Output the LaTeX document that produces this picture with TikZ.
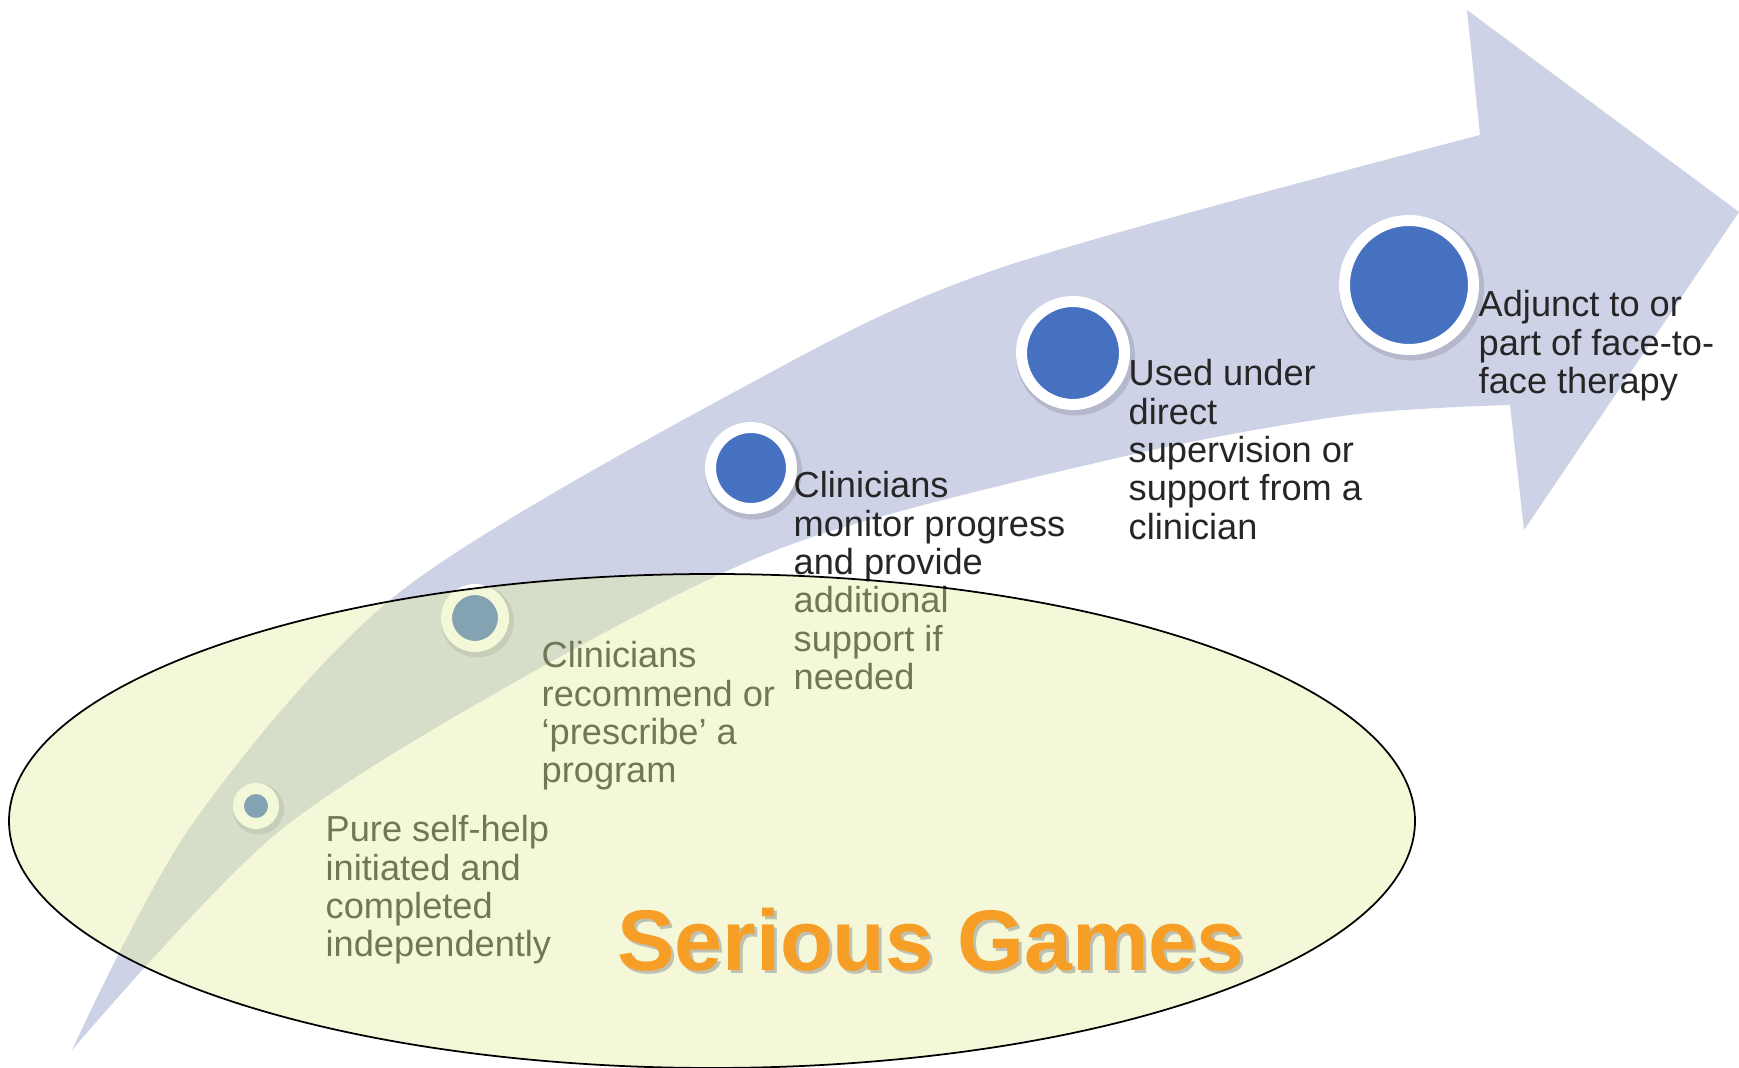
\documentclass[tikz,border=0pt]{standalone}
\usepackage{fontspec}
\setmainfont{Liberation Sans}
\usetikzlibrary{shapes.geometric}
\definecolor{arrowlav}{RGB}{206,210,231}
\definecolor{dotblue}{RGB}{70,113,192}
\definecolor{gamefill}{RGB}{227,238,158}
\definecolor{gameorange}{RGB}{246,158,38}

\begin{document}
\begin{tikzpicture}[x=0.1mm, y=-0.1mm,
	stage/.style={circle, fill=dotblue, draw=white, line width=1.1mm, inner sep=0pt,
		preaction={fill=none, draw=black, draw opacity=0.12, line width=1.6mm,
			transform canvas={xshift=0.25mm, yshift=-0.3mm}}},
	caption/.style={anchor=north west, inner sep=0pt, align=left, text=black!85,
		font=\fontsize{10.3}{10.9}\selectfont},
	gametitle/.style={anchor=base, inner sep=0pt, font=\fontsize{24.5}{28}\selectfont\bfseries}]
	\useasboundingbox (0,0) rectangle (1739,1068);
	\fill[arrowlav] plot[smooth] coordinates {(72,1050) (193,823) (400,592) (751,383) (1000,268) (1480,135)}
		-- (1467,10) -- (1739,212) -- (1524,530) -- (1510,405)
		-- plot[smooth] coordinates {(1510,405) (1350,415) (1130,455) (795,543) (540,668) (277,833) (72,1050)} -- cycle;
	\path (256,806) node(selfhelp)[stage, minimum size=3.5mm]{}
		(475,618) node(prescribe)[stage, minimum size=5.7mm]{}
		(751,468) node(monitor)[stage, minimum size=8.1mm]{}
		(1073,353) node(supervised)[stage, minimum size=10.3mm]{}
		(1409,285) node(adjunct)[stage, minimum size=12.9mm]{};
	\path (325,815) node(selfhelptxt)[caption]{Pure self-help\\initiated and\\completed\\independently}
		(541,641) node(prescribetxt)[caption]{Clinicians\\recommend or\\‘prescribe’ a\\program}
		(793,471) node(monitortxt)[caption]{Clinicians\\monitor progress\\and provide\\additional\\support if\\needed}
		(1128,359) node(supervisedtxt)[caption]{Used under\\direct\\supervision or\\support from a\\clinician}
		(1478,290) node(adjuncttxt)[caption]{Adjunct to or\\part of face-to-\\face therapy};
	\path (712,821) node(games)[ellipse, draw=black, line width=0.5pt, fill=gamefill, fill opacity=0.4,
		inner sep=0pt, minimum width=140.6mm, minimum height=49.4mm]{};
	\path (934,973) node(titleshadow)[gametitle, text=black!45, opacity=0.5]{Serious Games}
		(931,970) node(title)[gametitle, text=gameorange]{Serious Games};
\end{tikzpicture}
\end{document}
